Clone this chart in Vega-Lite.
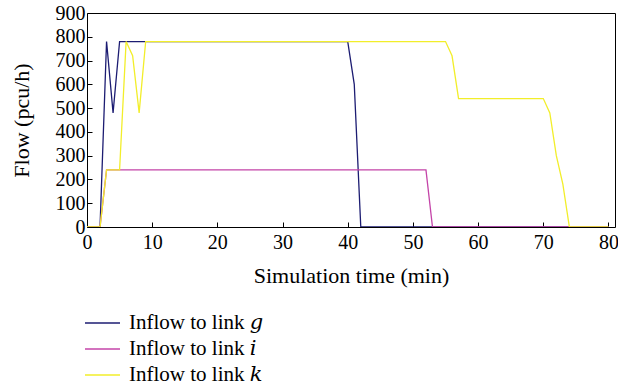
{
  "$schema": "https://vega.github.io/schema/vega-lite/v6.json",
  "width": 528,
  "height": 214,
  "autosize": "none",
  "padding": {"left": 87, "top": 13, "right": 3, "bottom": 160},
  "background": "white",
  "config": {
    "font": "Liberation Serif",
    "view": {"stroke": "black", "strokeWidth": 1},
    "axis": {"grid": false, "domain": false, "tickColor": "black", "labelColor": "black", "titleColor": "black", "labelFont": "Liberation Serif", "titleFont": "Liberation Serif", "labelFontSize": 20, "titleFontSize": 22, "titleFontWeight": "normal"}
  },
  "data": {
    "values": [
      {"series": "Inflow to link 𝑔", "t": 0, "flow": 0},
      {"series": "Inflow to link 𝑔", "t": 2, "flow": 0},
      {"series": "Inflow to link 𝑔", "t": 3, "flow": 780},
      {"series": "Inflow to link 𝑔", "t": 4, "flow": 480},
      {"series": "Inflow to link 𝑔", "t": 5, "flow": 780},
      {"series": "Inflow to link 𝑔", "t": 40, "flow": 780},
      {"series": "Inflow to link 𝑔", "t": 41, "flow": 600},
      {"series": "Inflow to link 𝑔", "t": 42, "flow": 0},
      {"series": "Inflow to link 𝑔", "t": 80, "flow": 0},
      {"series": "Inflow to link 𝑖", "t": 0, "flow": 0},
      {"series": "Inflow to link 𝑖", "t": 2, "flow": 0},
      {"series": "Inflow to link 𝑖", "t": 3, "flow": 240},
      {"series": "Inflow to link 𝑖", "t": 52, "flow": 240},
      {"series": "Inflow to link 𝑖", "t": 53, "flow": 0},
      {"series": "Inflow to link 𝑖", "t": 80, "flow": 0},
      {"series": "Inflow to link 𝑘", "t": 0, "flow": 0},
      {"series": "Inflow to link 𝑘", "t": 2, "flow": 0},
      {"series": "Inflow to link 𝑘", "t": 3, "flow": 240},
      {"series": "Inflow to link 𝑘", "t": 5, "flow": 240},
      {"series": "Inflow to link 𝑘", "t": 6, "flow": 780},
      {"series": "Inflow to link 𝑘", "t": 7, "flow": 720},
      {"series": "Inflow to link 𝑘", "t": 8, "flow": 480},
      {"series": "Inflow to link 𝑘", "t": 9, "flow": 780},
      {"series": "Inflow to link 𝑘", "t": 55, "flow": 780},
      {"series": "Inflow to link 𝑘", "t": 56, "flow": 720},
      {"series": "Inflow to link 𝑘", "t": 57, "flow": 540},
      {"series": "Inflow to link 𝑘", "t": 70, "flow": 540},
      {"series": "Inflow to link 𝑘", "t": 71, "flow": 480},
      {"series": "Inflow to link 𝑘", "t": 72, "flow": 300},
      {"series": "Inflow to link 𝑘", "t": 73, "flow": 180},
      {"series": "Inflow to link 𝑘", "t": 74, "flow": 0},
      {"series": "Inflow to link 𝑘", "t": 80, "flow": 0}
    ]
  },
  "mark": {"type": "line", "strokeWidth": 1.3, "clip": true},
  "encoding": {
    "x": {
      "field": "t", "type": "quantitative",
      "scale": {"domain": [0, 81], "nice": false},
      "axis": {"title": "Simulation time (min)", "values": [0, 10, 20, 30, 40, 50, 60, 70, 80], "tickSize": -5, "labelPadding": 10, "titlePadding": 13, "labelFlush": false}
    },
    "y": {
      "field": "flow", "type": "quantitative",
      "scale": {"domain": [0, 900], "nice": false},
      "axis": {"title": "Flow (pcu/h)", "values": [0, 100, 200, 300, 400, 500, 600, 700, 800, 900], "tickSize": -5, "labelPadding": 7, "titlePadding": 22, "labelFlush": false}
    },
    "color": {
      "field": "series", "type": "nominal",
      "scale": {"domain": ["Inflow to link 𝑔", "Inflow to link 𝑖", "Inflow to link 𝑘"], "range": ["#1c1c72", "#c444a8", "#f2ee2a"]},
      "legend": {"title": null, "orient": "none", "legendX": 4.5, "legendY": 299, "symbolType": "M-1.75,0H1.75", "symbolSize": 400, "symbolStrokeWidth": 1.5, "labelFontSize": 21, "labelFont": "Liberation Serif, DejaVu Serif", "labelColor": "black", "rowPadding": 5, "labelOffset": 15.5, "padding": 0}
    },
    "order": {"field": "series"}
  }
}
